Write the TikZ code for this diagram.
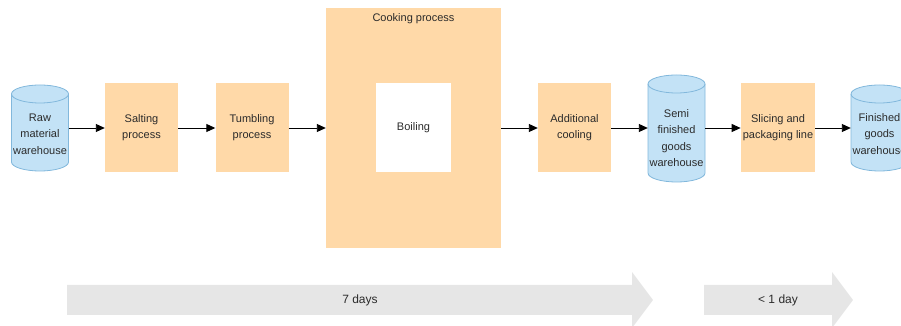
\documentclass[tikz,border=0pt]{standalone}
\usepackage{fontspec}
\setmainfont{Liberation Sans}
\usetikzlibrary{arrows.meta}

\definecolor{boxfill}{HTML}{FFD9A8}
\definecolor{cylfill}{HTML}{C3E2F6}
\definecolor{cylline}{HTML}{82B8DC}
\definecolor{bandfill}{HTML}{E6E6E6}
\definecolor{ink}{HTML}{2B2B2B}

\tikzset{
  procbox/.style={fill=boxfill, draw=none, minimum width=73pt, minimum height=89pt,
    inner sep=2pt, align=center, text=ink, font=\fontsize{11}{16}\selectfont},
  tankbody/.style={draw=none, minimum width=57pt, inner sep=0pt},
  tanktext/.style={align=center, inner sep=0pt, text=ink,
    font=\fontsize{11}{16.5}\selectfont},
  flow/.style={draw=black, line width=0.9pt, -{Triangle[length=9pt,width=8pt]}},
  bandlabel/.style={text=ink, font=\fontsize{12}{14}\selectfont},
}

% storage tank: centre x, top y, bottom y (top and bottom of the end ellipses)
\newcommand\tankshape[3]{%
  \fill[cylfill] (#1-28.5,#2-9) -- (#1-28.5,#3+9)
    arc[start angle=180,end angle=360,x radius=28.5pt,y radius=9pt]
    -- (#1+28.5,#2-9)
    arc[start angle=0,end angle=180,x radius=28.5pt,y radius=9pt] -- cycle;
  \draw[cylline, line width=0.8pt] (#1-28.5,#2-9) -- (#1-28.5,#3+9)
    arc[start angle=180,end angle=360,x radius=28.5pt,y radius=9pt]
    -- (#1+28.5,#2-9)
    arc[start angle=0,end angle=180,x radius=28.5pt,y radius=9pt] -- cycle;
  \draw[cylline, line width=0.8pt] (#1-28.5,#2-9)
    arc[start angle=180,end angle=360,x radius=28.5pt,y radius=9pt];
}

\begin{document}
\begin{tikzpicture}[x=1pt,y=1pt]
\useasboundingbox (0,0) rectangle (901,326);
\clip (0,0) rectangle (901,326);

% storage tanks
\tankshape{40}{241}{155}
\tankshape{676.5}{251}{144}
\tankshape{879.5}{241}{155}
\node[tankbody, minimum height=86pt] (raw) at (40,198) {};
\node[tankbody, minimum height=107pt] (semi) at (676.5,198) {};
\node[tankbody, minimum height=86pt] (fin) at (879.5,198) {};
\node[tanktext] (rawtext) at (40,192) {Raw\\material\\warehouse};
\node[tanktext] (semitext) at (676.5,188) {Semi\\finished\\goods\\warehouse};
\node[tanktext] (fintext) at (879.5,192) {Finished\\goods\\warehouse};

% process steps
\node[procbox] (salt) at (141.5,198) {Salting\\process};
\node[procbox] (tumble) at (252,198) {Tumbling\\process};
\node[procbox, minimum width=175pt, minimum height=240pt] (cook) at (413.5,198) {};
\node[text=ink, font=\fontsize{11}{14}\selectfont] (cooklabel) at (413.5,307.5) {Cooking process};
\node[procbox, fill=white, minimum width=75pt] (boil) at (413.5,198) {Boiling};
\node[procbox] (cool) at (574.5,198) {Additional\\cooling};
\node[procbox, minimum width=74pt] (slice) at (778,198) {Slicing and\\packaging line};

% material flow
\draw[flow] (raw.east) -- (salt.west);
\draw[flow] (salt.east) -- (tumble.west);
\draw[flow] (tumble.east) -- (cook.west);
\draw[flow] (cook.east) -- (cool.west);
\draw[flow] (cool.east) -- (semi.west);
\draw[flow] (semi.east) -- (slice.west);
\draw[flow] (slice.east) -- (fin.west);

% lead time bands
\fill[bandfill] (67,41) -- (632,41) -- (632,54) -- (653,26) -- (632,-2)
  -- (632,11) -- (67,11) -- cycle;
\node[bandlabel] (week) at (360,26) {7 days};
\fill[bandfill] (704,41) -- (832,41) -- (832,54) -- (853,26) -- (832,-2)
  -- (832,11) -- (704,11) -- cycle;
\node[bandlabel] (day) at (778,26) {< 1 day};
\end{tikzpicture}
\end{document}
